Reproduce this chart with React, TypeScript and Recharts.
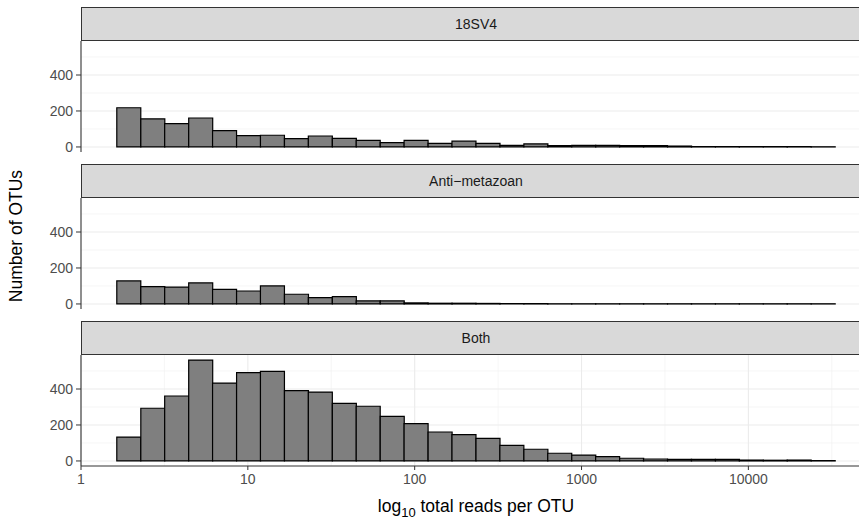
import React from "react";
import { BarChart, Bar, XAxis, YAxis, CartesianGrid } from "recharts";

// bin centres on the log10 axis (30 bins)
const binCenters = [
  0.286, 0.43, 0.573, 0.717, 0.86, 1.004, 1.147, 1.291, 1.434, 1.578,
  1.721, 1.865, 2.008, 2.152, 2.295, 2.439, 2.582, 2.726, 2.869, 3.013,
  3.156, 3.3, 3.443, 3.587, 3.73, 3.874, 4.017, 4.161, 4.304, 4.448,
];

const panelNames = ["18SV4", "Anti\u2212metazoan", "Both"];

const countsV4 = [
  218, 156, 130, 161, 91, 63, 65, 46, 61, 48, 37, 24, 37, 20, 32,
  20, 9, 17, 7, 9, 9, 7, 7, 5, 2, 2, 2, 2, 2, 1,
];
const countsAnti = [
  128, 96, 94, 117, 81, 72, 100, 54, 35, 41, 17, 17, 6, 4, 4,
  3, 2, 2, 1, 1, 1, 1, 1, 1, 1, 1, 1, 1, 1, 1,
];
const countsBoth = [
  133, 293, 361, 561, 433, 491, 498, 391, 383, 320, 304, 248, 207, 161, 146,
  126, 87, 65, 43, 33, 24, 15, 11, 9, 9, 9, 5, 4, 5, 2,
];

const xTicks = [0, 1, 2, 3, 4];
const xMinor = [0.5, 1.5, 2.5, 3.5, 4.5];
const yTicks = [0, 200, 400];
const yMinor = [100, 300, 500];

const FONT = "'Liberation Sans', Arial, Helvetica, sans-serif";
const PLOT_LEFT = 81;
const PLOT_W = 790;
const PANEL_H = 111;
const STRIP_H = 34;
const TICK_FONT = 14;

function toRows(counts: number[]) {
  return binCenters.map((x, i) => ({ logx: x, count: counts[i] }));
}

function Panel({ name, counts, top, showX }: { name: string; counts: number[]; top: number; showX: boolean }) {
  const axisH = showX ? 32 : 0;
  const padBottom = showX ? 0 : 10; // room for the "0" label below the panel edge
  const chartH = PANEL_H + axisH + padBottom;
  return (
    <>
      <div
        style={{
          position: "absolute", left: PLOT_LEFT, top: top, width: PLOT_W, height: STRIP_H,
          background: "#d9d9d9", border: "1px solid #333333", boxSizing: "border-box",
          display: "flex", alignItems: "center", justifyContent: "center",
          fontSize: 14, color: "#1a1a1a",
        }}
      >
        {name}
      </div>
      <div style={{ position: "absolute", left: 0, top: top + STRIP_H, width: PLOT_LEFT + PLOT_W, height: chartH }}>
        <BarChart
          width={PLOT_LEFT + PLOT_W}
          height={chartH}
          data={toRows(counts)}
          margin={{ top: 0, right: 0, bottom: padBottom, left: 0 }}
          barCategoryGap={0}
          barGap={0}
        >
          <CartesianGrid horizontalValues={yMinor} verticalValues={xMinor} stroke="#f0f0f0" strokeWidth={0.6} />
          <CartesianGrid horizontalValues={yTicks} verticalValues={xTicks} stroke="#ebebeb" strokeWidth={1.1} />
          <XAxis
            dataKey="logx"
            type="number"
            domain={[0, 4.735]}
            ticks={xTicks}
            interval={0}
            allowDataOverflow
            height={axisH}
            tick={showX ? { fontSize: TICK_FONT, fill: "#4d4d4d", fontFamily: FONT } : false}
            tickFormatter={(t: number) => String(Math.round(Math.pow(10, t)))}
            tickLine={showX ? { stroke: "#333333" } : false}
            tickSize={4}
            tickMargin={4}
            axisLine={{ stroke: "#333333", strokeWidth: 1.1 }}
          />
          <YAxis
            type="number"
            domain={[-28, 589]}
            ticks={yTicks}
            interval={0}
            allowDataOverflow
            width={PLOT_LEFT}
            tick={{ fontSize: TICK_FONT, fill: "#4d4d4d", fontFamily: FONT }}
            tickLine={{ stroke: "#333333" }}
            tickSize={5}
            tickMargin={3}
            axisLine={{ stroke: "#333333", strokeWidth: 1.1 }}
          />
          <Bar dataKey="count" fill="#7f7f7f" stroke="#000000" strokeWidth={1.2} isAnimationActive={false} />
        </BarChart>
      </div>
    </>
  );
}

export default function App() {
  const seriesList = [countsV4, countsAnti, countsBoth];
  const stripTops = [7, 164, 321];
  return (
    <div
      style={{
        position: "fixed", left: 0, top: 0, width: 859, height: 527, overflow: "hidden",
        background: "#ffffff", fontFamily: FONT,
      }}
    >
      {panelNames.map((name, i) => (
        <Panel key={name} name={name} counts={seriesList[i]} top={stripTops[i]} showX={i === 2} />
      ))}
      <div
        style={{
          position: "absolute", left: 17, top: 236, transform: "translate(-50%, -50%) rotate(-90deg)",
          whiteSpace: "nowrap", fontSize: 17.5, color: "#000", lineHeight: 1,
        }}
      >
        Number of OTUs
      </div>
      <div
        style={{
          position: "absolute", left: 476, top: 507, transform: "translate(-50%, -50%)",
          whiteSpace: "nowrap", fontSize: 17.5, color: "#000", lineHeight: 1,
        }}
      >
        log<sub style={{ fontSize: 13, lineHeight: 0 }}>10</sub> total reads per OTU
      </div>
    </div>
  );
}
